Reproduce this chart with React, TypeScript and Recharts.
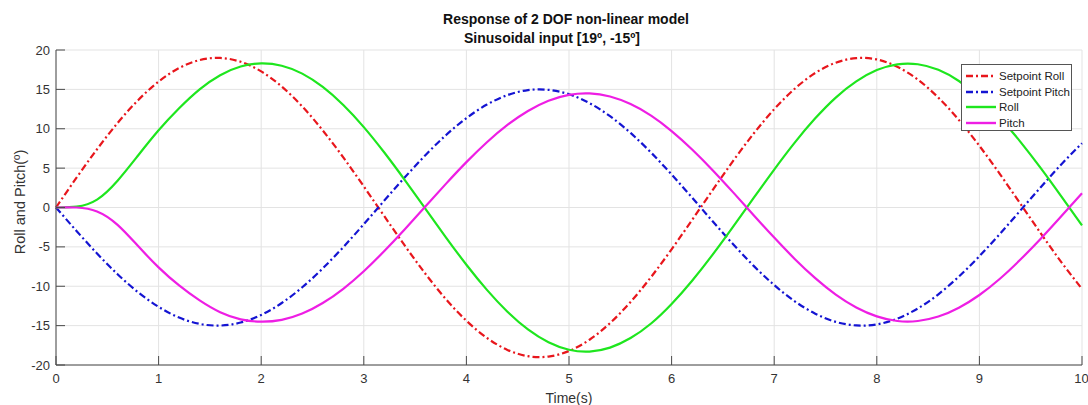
import { LineChart, Line, XAxis, YAxis, CartesianGrid } from "recharts";

const TIME = [
  0, 0.2, 0.4, 0.6, 0.8, 1, 1.2, 1.4, 1.6, 1.8, 2, 2.2, 2.4, 2.6, 2.8, 3, 3.2,
  3.4, 3.6, 3.8, 4, 4.2, 4.4, 4.6, 4.8, 5, 5.2, 5.4, 5.6, 5.8, 6, 6.2, 6.4, 6.6,
  6.8, 7, 7.2, 7.4, 7.6, 7.8, 8, 8.2, 8.4, 8.6, 8.8, 9, 9.2, 9.4, 9.6, 9.8, 10,
];

const SETPOINT_ROLL = [
  0, 3.78, 7.4, 10.73, 13.63, 15.99, 17.71, 18.72, 18.99, 18.5, 17.28, 15.36,
  12.83, 9.79, 6.36, 2.68, -1.11, -4.85, -8.41, -11.63, -14.38, -16.56, -18.08,
  -18.88, -18.93, -18.22, -16.79, -14.68, -11.99, -8.83, -5.31, -1.58, 2.21,
  5.92, 9.39, 12.48, 15.08, 17.08, 18.39, 18.97, 18.8, 17.87, 16.24, 13.95,
  11.11, 7.83, 4.24, 0.47, -3.31, -6.96, -10.34,
];

const SETPOINT_PITCH = [
  0, -2.98, -5.84, -8.47, -10.76, -12.62, -13.98, -14.78, -14.99, -14.61,
  -13.64, -12.13, -10.13, -7.73, -5.03, -2.12, 0.88, 3.83, 6.64, 9.18, 11.35,
  13.07, 14.27, 14.91, 14.94, 14.38, 13.25, 11.59, 9.47, 6.97, 4.19, 1.25,
  -1.75, -4.67, -7.41, -9.85, -11.91, -13.48, -14.52, -14.98, -14.84, -14.11,
  -12.82, -11.02, -8.77, -6.18, -3.34, -0.37, 2.61, 5.5, 8.16,
];

const ROLL = [
  0, 0.1, 1.0, 3.4, 6.6, 9.8, 12.6, 15.0, 16.8, 17.9, 18.3, 18.0, 17.0, 15.31,
  13.02, 10.21, 6.98, 3.48, -0.15, -3.78, -7.27, -10.46, -13.23, -15.48,
  -17.11, -18.06, -18.29, -17.79, -16.58, -14.73, -12.25, -9.3, -5.99, -2.43,
  1.22, 4.82, 8.24, 11.32, 13.96, 16.01, 17.45, 18.18, 18.19, 17.48, 16.06,
  14.02, 11.41, 8.34, 4.97, 1.38, -2.28,
];

const PITCH = [
  0, 0, -0.5, -2.2, -4.9, -7.6, -9.9, -11.8, -13.3, -14.2, -14.5, -14.27,
  -13.47, -12.13, -10.32, -8.09, -5.53, -2.76, 0.12, 3.0, 5.76, 8.29, 10.49,
  12.26, 13.56, 14.31, 14.49, 14.09, 13.13, 11.67, 9.71, 7.37, 4.74, 1.92,
  -0.97, -3.82, -6.53, -8.97, -11.06, -12.69, -13.82, -14.41, -14.41, -13.85,
  -12.73, -11.11, -9.05, -6.61, -3.94, -1.09, 1.81,
];

const X_TICKS = [0, 1, 2, 3, 4, 5, 6, 7, 8, 9, 10];
const Y_TICKS = [-20, -15, -10, -5, 0, 5, 10, 15, 20];

const SERIES = [
  { key: "setpointRoll", name: "Setpoint Roll", color: "#e8161c", dash: "7 3 2 3" },
  { key: "setpointPitch", name: "Setpoint Pitch", color: "#1414d2", dash: "7 3 2 3" },
  { key: "roll", name: "Roll", color: "#1ee61e", dash: undefined },
  { key: "pitch", name: "Pitch", color: "#ee1ee4", dash: undefined },
];

const data = TIME.map((t, i) => ({
  t,
  setpointRoll: SETPOINT_ROLL[i],
  setpointPitch: SETPOINT_PITCH[i],
  roll: ROLL[i],
  pitch: PITCH[i],
}));

const FONT = "'Liberation Sans', Arial, Helvetica, sans-serif";
const AXIS = "#4a4a4a";
const tickStyle = { fontSize: 13, fill: "#333", fontFamily: FONT };
const noLabel = () => <g />;

function ChartLegend() {
  return (
    <div
      style={{
        position: "absolute",
        left: 961,
        top: 64,
        width: 111,
        height: 67,
        border: "1px solid #555",
        background: "#fff",
        fontFamily: FONT,
        fontSize: 11.5,
        color: "#222",
        boxSizing: "border-box",
        paddingTop: 3,
      }}
    >
      {SERIES.map((s) => (
        <div key={s.key} style={{ display: "flex", alignItems: "center", height: 15.7 }}>
          <svg width={34} height={8} style={{ marginLeft: 3 }}>
            <line x1={1} y1={4} x2={31} y2={4} stroke={s.color} strokeWidth={2.4} strokeDasharray={s.dash} />
          </svg>
          <span>{s.name}</span>
        </div>
      ))}
    </div>
  );
}

export default function App() {
  return (
    <div style={{ position: "absolute", left: 0, top: 0, width: 1088, height: 405, background: "#fff" }}>
      <LineChart width={1088} height={405} data={data} margin={{ top: 50, right: 6, bottom: 0, left: 0 }}>
        <CartesianGrid stroke="#e3e3e3" />
        <XAxis
          dataKey="t"
          type="number"
          domain={[0, 10]}
          ticks={X_TICKS}
          height={40}
          stroke={AXIS}
          tickSize={-9}
          tickMargin={18}
          tick={tickStyle}
        />
        <XAxis
          xAxisId="top"
          orientation="top"
          type="number"
          domain={[0, 10]}
          ticks={X_TICKS}
          height={0}
          stroke={AXIS}
          tickSize={-9}
          tick={noLabel}
        />
        <YAxis
          type="number"
          domain={[-20, 20]}
          ticks={Y_TICKS}
          width={56}
          stroke={AXIS}
          tickSize={-9}
          tickMargin={15}
          tick={tickStyle}
        />
        <YAxis
          yAxisId="right"
          orientation="right"
          type="number"
          domain={[-20, 20]}
          allowDataOverflow
          ticks={Y_TICKS}
          width={0}
          stroke={AXIS}
          tickSize={-9}
          tick={noLabel}
        />
        {SERIES.map((s) => (
          <Line
            key={s.key}
            dataKey={s.key}
            name={s.name}
            type="natural"
            stroke={s.color}
            strokeWidth={2.2}
            strokeDasharray={s.dash}
            dot={false}
            isAnimationActive={false}
          />
        ))}
        <text x={566} y={24} textAnchor="middle" fontFamily={FONT} fontWeight="bold" fontSize={14} fill="#111">
          Response of 2 DOF non-linear model
        </text>
        <text x={552} y={43} textAnchor="middle" fontFamily={FONT} fontWeight="bold" fontSize={14} fill="#111">
          Sinusoidal input [19º, -15º]
        </text>
        <text x={569} y={403} textAnchor="middle" fontFamily={FONT} fontSize={14} fill="#333">
          Time(s)
        </text>
        <text
          x={20}
          y={202}
          textAnchor="middle"
          dominantBaseline="central"
          transform="rotate(-90 20 202)"
          fontFamily={FONT}
          fontSize={14.5}
          fill="#333"
        >
          Roll and Pitch(º)
        </text>
      </LineChart>
      <ChartLegend />
    </div>
  );
}
